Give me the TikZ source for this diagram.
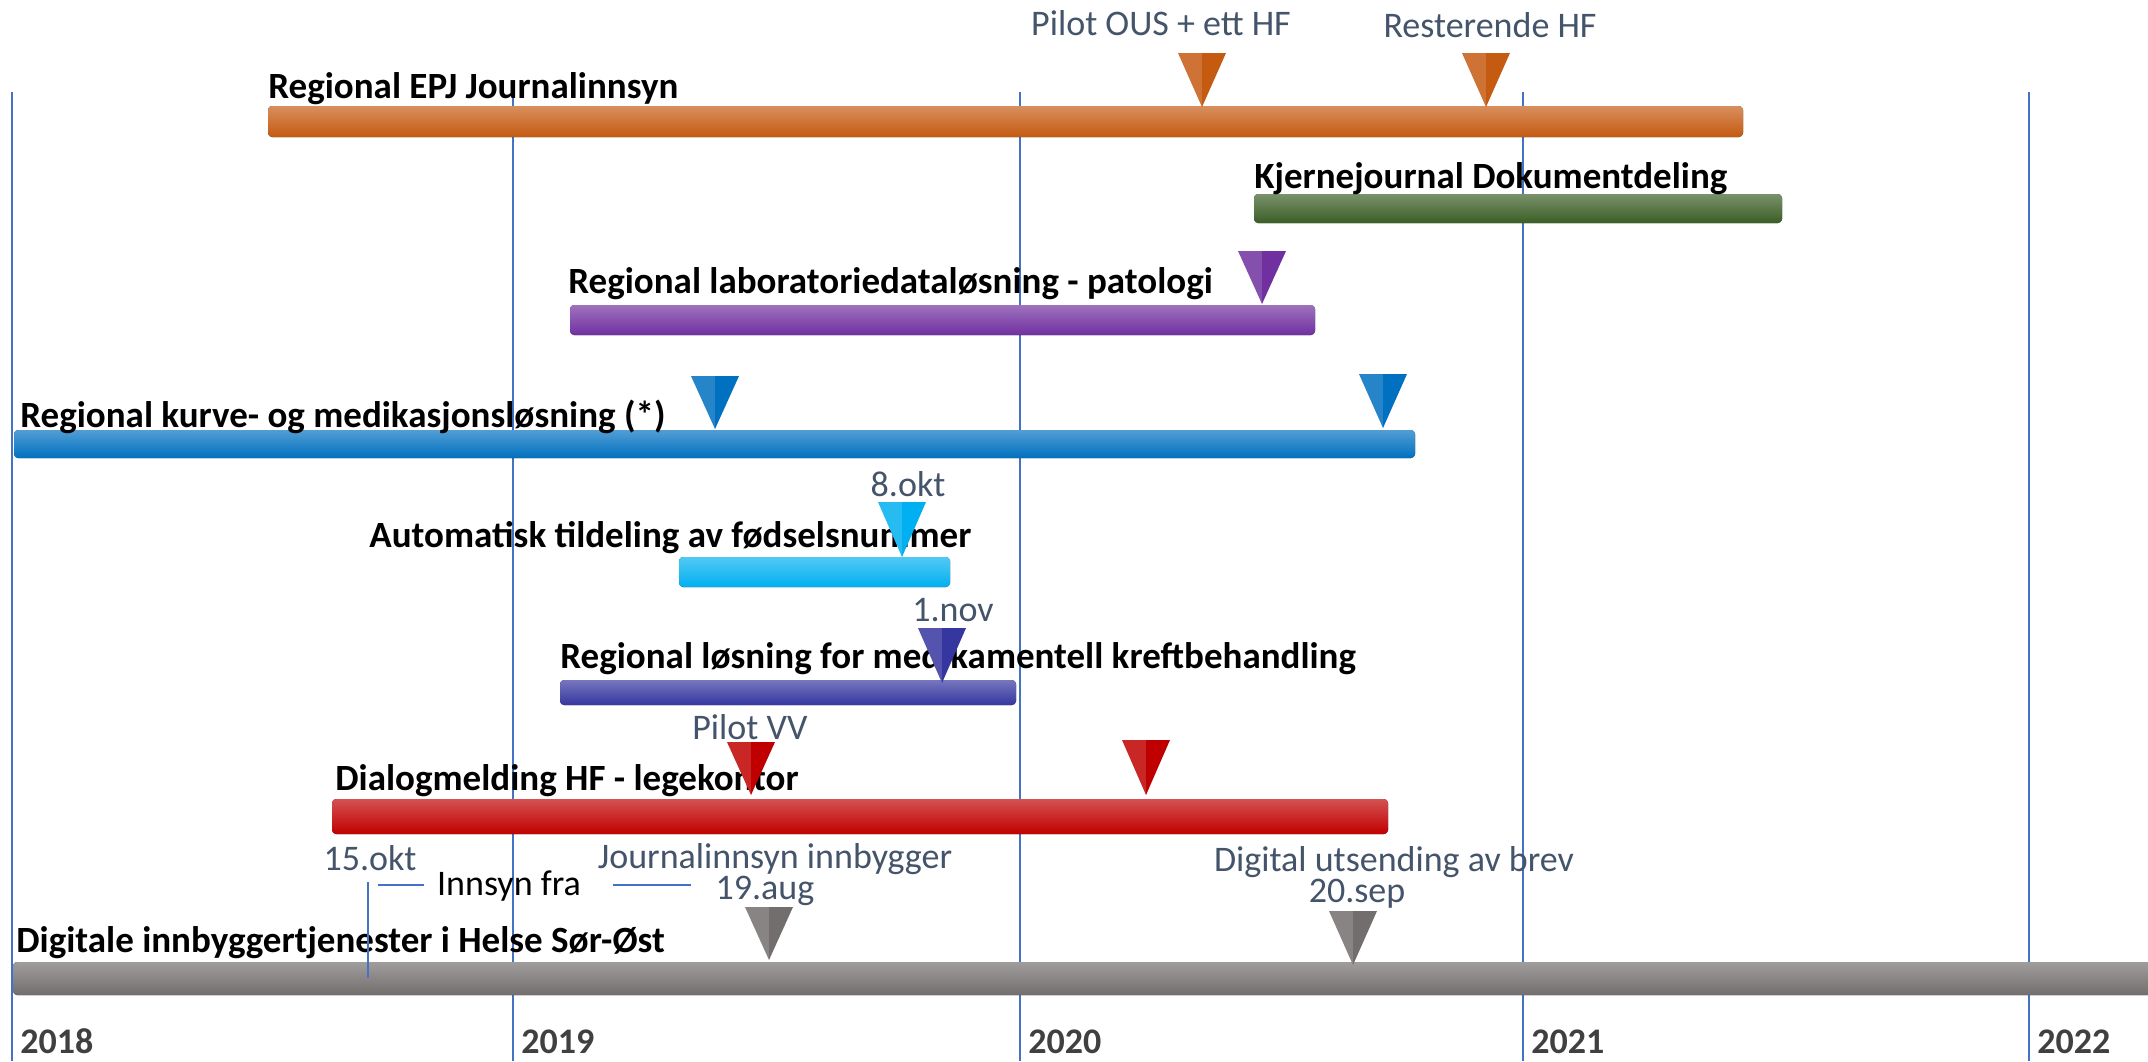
\documentclass[tikz,border=0pt]{standalone}
\usepackage{fontspec}
\setmainfont{Carlito}
\usepackage{xcolor}
\usepackage{tikz}
\definecolor{gridblue}{HTML}{4472C4}
\definecolor{datetext}{HTML}{44546A}
\definecolor{yeartext}{HTML}{404040}
\definecolor{epjorange}{HTML}{C55A11}
\definecolor{kjgreen}{HTML}{3B5E25}
\definecolor{labpurple}{HTML}{7030A0}
\definecolor{kurveblue}{HTML}{0070C0}
\definecolor{fnrcyan}{HTML}{00B0F0}
\definecolor{kreftindigo}{HTML}{3636A0}
\definecolor{dialogred}{HTML}{C00000}
\definecolor{digigray}{HTML}{736E6E}
\newcommand{\msmark}[4]{% colour, x, top, tip
  \fill[#1!85!white] (#2-24,#3) -- (#2,#3) -- (#2,#4) -- cycle;
  \fill[#1] (#2,#3) -- (#2+24,#3) -- (#2,#4) -- cycle;}

\begin{document}
\begin{tikzpicture}[x=0.5pt, y=-0.5pt,
  bar/.style={rounded corners=2pt, top color=#1!68!white,
    middle color=#1!97!white, bottom color=#1},
  lbl/.style={anchor=base west, inner sep=0pt,
    font=\fontsize{18.5}{22}\selectfont\bfseries},
  note/.style={anchor=base, inner sep=0pt, text=datetext,
    font=\fontsize{18}{22}\selectfont},
  yr/.style={anchor=base west, inner sep=0pt, text=yeartext,
    font=\fontsize{18}{22}\selectfont\bfseries},
  gridline/.style={draw=gridblue, line width=0.6pt}
]
\useasboundingbox[fill=white] (0,0) rectangle (2148,1061);
% Year grid
\foreach \yr/\gx in {2018/12, 2019/513, 2020/1020, 2021/1523, 2022/2029} {
  \draw[gridline] (\gx,92) -- (\gx,1061);
  \node[yr] (y\yr) at (\gx+8,1053) {\yr};
}
% Bars
\fill[bar=epjorange] (268,106) rectangle (1743,137);
\fill[bar=kjgreen] (1254,194) rectangle (1782,223);
\fill[bar=labpurple] (570,305) rectangle (1315,335);
\fill[bar=kurveblue] (14,430) rectangle (1415,458);
\fill[bar=fnrcyan] (679,557) rectangle (950,587);
\fill[bar=kreftindigo] (560,680) rectangle (1016,705);
\fill[bar=dialogred] (332,799) rectangle (1388,834);
\fill[bar=digigray] (13,962) rectangle (2152,995);
% Bar labels
\node[lbl] (epj) at (268,98) {Regional EPJ Journalinnsyn};
\node[lbl] (kj) at (1254,188) {Kjernejournal Dokumentdeling};
\node[lbl] (lab) at (568,293) {Regional laboratoriedataløsning - patologi};
\node[lbl] (kurve) at (20,427) {Regional kurve- og medikasjonsløsning (*)};
\node[lbl] (fnr) at (369,547) {Automatisk tildeling av fødselsnummer};
\node[lbl] (kreft) at (560,668) {Regional løsning for medikamentell kreftbehandling};
\node[lbl] (dialog) at (335,790) {Dialogmelding HF - legekontor};
\node[lbl] (digi) at (16,952) {Digitale innbyggertjenester i Helse Sør-Øst};
% Milestone notes
\node[note] (pilotous) at (1161,35) {Pilot OUS + ett HF};
\node[note] (rest) at (1490,37) {Resterende HF};
\node[note] (okt8) at (908,496) {8.okt};
\node[note] (nov1) at (953,621) {1.nov};
\node[note] (pilotvv) at (750,739) {Pilot VV};
\node[note] (okt15) at (370,870) {15.okt};
\node[note] (jinnb) at (775,868) {Journalinnsyn innbygger};
\node[note] (aug19) at (765,899) {19.aug};
\node[note] (brev) at (1394,871) {Digital utsending av brev};
\node[note] (sep20) at (1357,902) {20.sep};
\node[note, text=black] (innsyn) at (509,895) {Innsyn fra};
\draw[gridline] (368,882) -- (368,978);
\draw[gridline] (378,885) -- (424,885);
\draw[gridline] (613,885) -- (691,885);
% Milestones
\msmark{epjorange}{1202}{53}{107}
\msmark{epjorange}{1486}{53}{107}
\msmark{labpurple}{1262}{251}{304}
\msmark{kurveblue}{715}{376}{429}
\msmark{kurveblue}{1383}{374}{428}
\msmark{fnrcyan}{902}{502}{557}
\msmark{kreftindigo}{942}{628}{683}
\msmark{dialogred}{751}{742}{795}
\msmark{dialogred}{1146}{740}{795}
\msmark{digigray}{769}{907}{960}
\msmark{digigray}{1353}{911}{965}
\end{tikzpicture}
\end{document}
